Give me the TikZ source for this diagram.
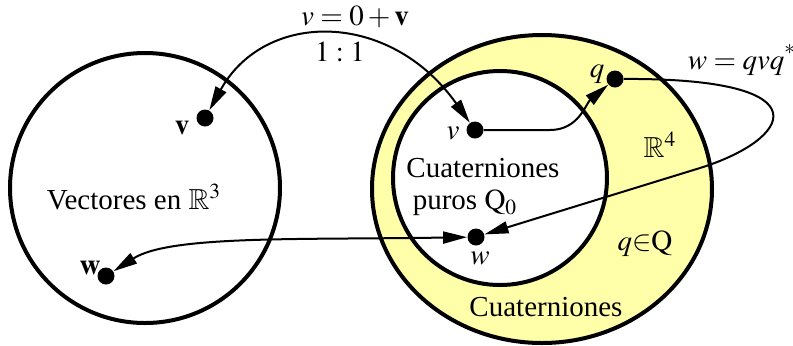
\documentclass[tikz,border=0pt]{standalone}
\usepackage{amsmath}
\usepackage{mathptmx}
\usepackage{amssymb}
\usepackage{fontspec}
\setmainfont{Liberation Serif}
\usepackage{tikz}
\usetikzlibrary{arrows.meta}
\definecolor{quatyellow}{RGB}{255,255,170}

\begin{document}
\begin{tikzpicture}[x=0.5pt,y=0.5pt,
  every node/.style={font=\fontsize{14.5}{17}\selectfont},
  dot/.style={circle,fill=black,inner sep=0pt,minimum size=8.5pt},
  setline/.style={line width=2pt},
  link/.style={line width=1pt,>={Triangle[length=12pt,width=6pt]}}]
  \useasboundingbox (0,0) rectangle (793,345);
  \fill[quatyellow] (542,156) ellipse [x radius=85pt,y radius=77pt];
  \draw[setline] (542,156) ellipse [x radius=85pt,y radius=77pt];
  \filldraw[setline,fill=white] (500,167) circle [radius=53.5pt];
  \draw[setline] (145,157) circle [radius=67.5pt];
  \node[dot] (vb) at (205,227) {};
  \node[dot] (wb) at (106,69) {};
  \node[dot] (vi) at (475,215) {};
  \node[dot] (q) at (615,266) {};
  \node[dot] (wi) at (476,108) {};
  \node (vblabel) at (182,217) {$\mathbf{v}$};
  \node (wblabel) at (90,77) {$\mathbf{w}$};
  \node (vilabel) at (453,212) {$v$};
  \node (qlabel) at (597,271) {$q$};
  \node (wilabel) at (480,87) {$w$};
  \node (map) at (355,328) {$v=0+\mathbf{v}$};
  \node (ratio) at (340,293) {$1:1$};
  \node (rot) at (742,285) {$w=qvq^{\raisebox{2pt}{$\scriptstyle *$}}$};
  \node (rfour) at (660,200) {$\mathbb{R}^4$};
  \node (inq) at (645,101) {$q{\in}\mathrm{Q}$};
  \node (quat) at (546,38) {Cuaterniones};
  \node (pureone) at (483,177) {Cuaterniones};
  \node (puretwo) at (465,142) {puros $\mathrm{Q}_0$};
  \node (vect) at (134,148) {Vectores en $\mathbb{R}^3$};
  \draw[link,<->] (vb) .. controls (265,335) and (390,335) .. (vi);
  \coordinate (vibend) at (550,215);
  \draw[link,->] (vi) -- (vibend) to[out=0,in=220] (q);
  \coordinate (qloop) at (700,177);
  \draw[link,->] (q) .. controls (830,267) and (790,205) .. (qloop) -- (wi);
  \draw[link,<->] (wb) .. controls (170,110) and (300,105) .. (wi);
\end{tikzpicture}
\end{document}
